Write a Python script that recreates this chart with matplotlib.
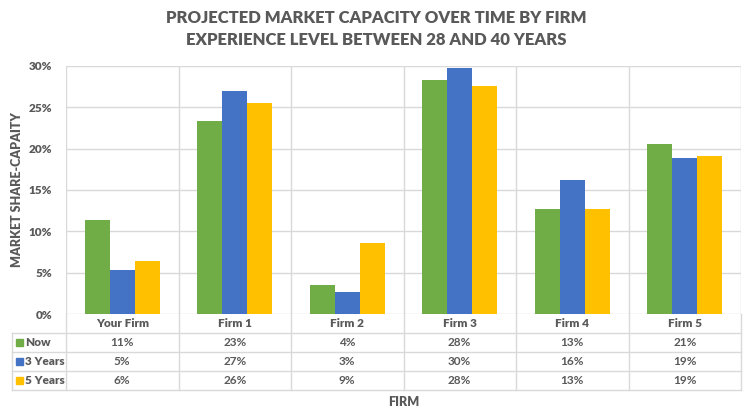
import matplotlib
matplotlib.use("Agg")
import matplotlib.pyplot as plt
import numpy as np
from matplotlib.patches import Rectangle

plt.rcParams['font.family'] = ['Lato', 'DejaVu Sans']

# Data
firms = ["Your Firm", "Firm 1", "Firm 2", "Firm 3", "Firm 4", "Firm 5"]
series = ["Now", "3 Years", "5 Years"]
now = [11.4, 23.3, 3.5, 28.3, 12.7, 20.6]
years3 = [5.3, 27.0, 2.7, 29.7, 16.2, 18.9]
years5 = [6.4, 25.5, 8.6, 27.6, 12.7, 19.1]
colors = ["#70AD47", "#4472C4", "#FFC000"]

gray = "#595959"
grid = "#D9D9D9"

fig = plt.figure(figsize=(7.52, 4.15), dpi=100)
ax = fig.add_axes([66 / 752, 1 - 314 / 415, 675 / 752, 248 / 415])

x = np.arange(len(firms))
w = 0.223
for i, (vals, c) in enumerate(zip([now, years3, years5], colors)):
    ax.bar(x + (i - 1) * w, vals, w, color=c, zorder=3)

ax.set_xlim(-0.5, len(firms) - 0.5)
ax.set_ylim(0, 30)
ax.set_yticks(range(0, 31, 5))
ax.set_yticklabels([f"{v}%" for v in range(0, 31, 5)])
ax.tick_params(axis='y', length=0, pad=10, labelsize=8.5, labelcolor=gray)
ax.set_xticks([])
for lab in ax.get_yticklabels():
    lab.set_fontweight('heavy')

ax.grid(axis='y', color=grid, lw=1, zorder=0)
for b in np.arange(-0.5, len(firms), 1.0):
    ax.axvline(b, color=grid, lw=1, zorder=0)
for s in ax.spines.values():
    s.set_visible(False)

# data table under the axes (pixel rows converted to axes fraction)
def ay(py):
    return (314 - py) / 248.0

trans = ax.get_xaxis_transform()
row_lines = [333, 352, 371, 390]
for py in row_lines:
    ax.plot([-0.5 - 54 / 112.5, 5.5], [ay(py)] * 2, color=grid, lw=1,
            transform=trans, clip_on=False)
for b in np.arange(-0.5, len(firms), 1.0):
    ax.plot([b, b], [ay(314), ay(390)], color=grid, lw=1,
            transform=trans, clip_on=False)
ax.plot([-0.5 - 54 / 112.5] * 2, [ay(333), ay(390)], color=grid, lw=1,
        transform=trans, clip_on=False)

for i, f in enumerate(firms):
    ax.text(i, ay(323.5), f, ha='center', va='center', fontsize=8.5,
            fontweight='heavy', color=gray, transform=trans)

row_centers = [342.5, 361.5, 380.5]
for r, (name, vals, c) in enumerate(zip(series, [now, years3, years5], colors)):
    yc = ay(row_centers[r])
    for i, v in enumerate(vals):
        ax.text(i, yc, f"{v:.0f}%", ha='center', va='center', fontsize=8.5,
                fontweight='bold', color=gray, transform=trans)
    fig.patches.append(Rectangle((16 / 752, 1 - (row_centers[r] + 3.5) / 415),
                                 7 / 752, 7 / 415, color=c,
                                 transform=fig.transFigure, figure=fig))
    fig.text(25 / 752, 1 - row_centers[r] / 415, name, ha='left', va='center',
             fontsize=8.5, fontweight='heavy', color=gray)

fig.text(17 / 752, 1 - 190 / 415, "MARKET SHARE-CAPAITY", rotation=90,
         ha='center', va='center', fontsize=9, fontweight='heavy', color=gray)
fig.text(403.5 / 752, 1 - 402 / 415, "FIRM", ha='center', va='center',
         fontsize=9, fontweight='heavy', color=gray)
fig.text(376 / 752, 1 - 29 / 415,
         "PROJECTED MARKET CAPACITY OVER TIME BY FIRM\nEXPERIENCE LEVEL BETWEEN 28 AND 40 YEARS",
         ha='center', va='center', fontsize=12, fontweight='heavy', color=gray,
         linespacing=1.5)

fig.savefig("out.png", dpi=100)
